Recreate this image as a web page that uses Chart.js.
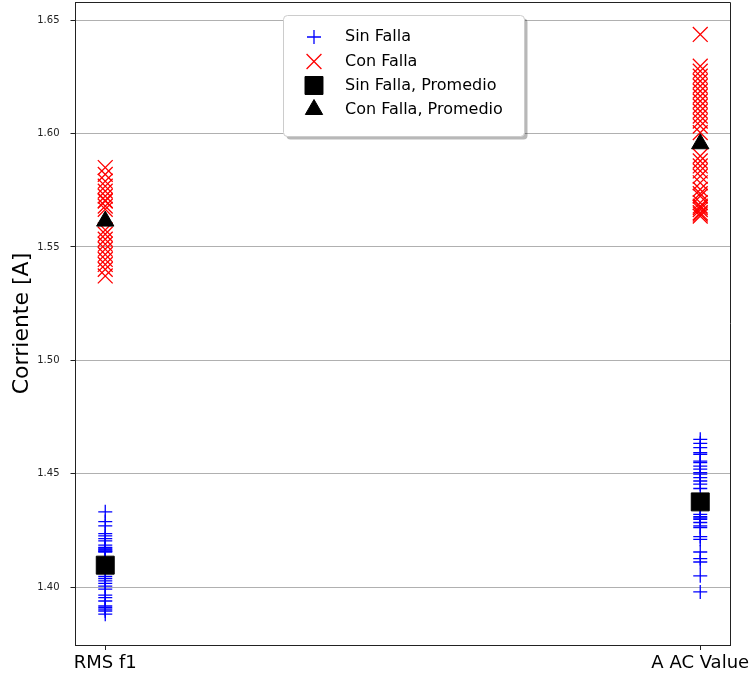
<!DOCTYPE html>
<html><head><meta charset="utf-8">
<script src="https://cdn.jsdelivr.net/npm/chart.js@4/dist/chart.umd.min.js"></script>
<style>html,body{margin:0;padding:0;background:#fff;}</style>
</head><body>
<canvas id="c" width="754" height="676" style="width:754px;height:676px;display:block"></canvas>
<script>
const categories = ['RMS f1', 'A AC Value'];
const seriesLabels = ['Sin Falla', 'Con Falla', 'Sin Falla, Promedio', 'Con Falla, Promedio'];
const sinFallaRMS = [1.4332,1.4289,1.4270,1.4236,1.4226,1.4214,1.4204,1.4185,1.4175,1.4172,1.4168,1.4164,1.4160,1.4158,1.4155,1.4047,1.4038,1.4028,1.4017,1.4005,1.3991,1.3965,1.3954,1.3939,1.3917,1.3910,1.3903,1.3895,1.3881];
const sinFallaAAC = [1.4652,1.4634,1.4615,1.4593,1.4586,1.4556,1.4549,1.4534,1.4520,1.4505,1.4498,1.4483,1.4468,1.4454,1.4435,1.4321,1.4311,1.4305,1.4299,1.4285,1.4270,1.4263,1.4223,1.4211,1.4155,1.4126,1.4111,1.4050,1.3979];
const conFallaRMS = [1.5850,1.5820,1.5790,1.5768,1.5746,1.5724,1.5705,1.5702,1.5680,1.5666,1.5575,1.5556,1.5534,1.5512,1.5490,1.5467,1.5445,1.5423,1.5401,1.5372];
const conFallaAAC = [1.6437,1.6297,1.6275,1.6253,1.6231,1.6209,1.6187,1.6165,1.6143,1.6121,1.6099,1.6077,1.6055,1.6033,1.6004,1.5901,1.5879,1.5857,1.5835,1.5812,1.5783,1.5754,1.5735,1.5724,1.5695,1.5680,1.5673,1.5665,1.5651,1.5645,1.5636];
const sinFallaPromedio = [1.4097, 1.4376];
const conFallaPromedio = [1.5614, 1.5955];
const yTicks = [1.40, 1.45, 1.50, 1.55, 1.60, 1.65];
const yRange = [1.3745, 1.6580];
const xRange = [-0.05, 1.05];

const toPts = (arrs) => arrs.flatMap((arr, i) => arr.map(v => ({x: i, y: v})));

const datasets = [
  {label: seriesLabels[0], data: toPts([sinFallaRMS, sinFallaAAC]), pointStyle: 'cross', pointRadius: 7, pointBorderWidth: 1.3, borderColor: '#0000ff', backgroundColor: 'rgba(0,0,0,0)', order: 4},
  {label: seriesLabels[1], data: toPts([conFallaRMS, conFallaAAC]), pointStyle: 'crossRot', pointRadius: 10.5, pointBorderWidth: 1.3, borderColor: '#ff0000', backgroundColor: 'rgba(0,0,0,0)', order: 3},
  {label: seriesLabels[2], data: toPts(sinFallaPromedio.map(v => [v])), pointStyle: 'rect', pointRadius: 12.7, pointBorderWidth: 1, borderColor: '#000', backgroundColor: '#000', order: 2},
  {label: seriesLabels[3], data: toPts(conFallaPromedio.map(v => [v])), pointStyle: 'triangle', pointRadius: 10, pointBorderWidth: 1, borderColor: '#000', backgroundColor: '#000', order: 1}
];

const framePlugin = {
  id: 'frame',
  afterDatasetsDraw(chart) {
    const {ctx, chartArea: a} = chart;
    ctx.save();
    ctx.strokeStyle = '#222'; ctx.lineWidth = 1;
    ctx.beginPath();
    ctx.moveTo(a.left, Math.round(a.top) + 0.5);
    ctx.lineTo(Math.round(a.right) + 0.5, Math.round(a.top) + 0.5);
    ctx.lineTo(Math.round(a.right) + 0.5, a.bottom);
    ctx.stroke();
    ctx.restore();
  }
};

function rrect(ctx, x, y, w, h, r) {
  ctx.beginPath();
  ctx.moveTo(x + r, y);
  ctx.lineTo(x + w - r, y); ctx.quadraticCurveTo(x + w, y, x + w, y + r);
  ctx.lineTo(x + w, y + h - r); ctx.quadraticCurveTo(x + w, y + h, x + w - r, y + h);
  ctx.lineTo(x + r, y + h); ctx.quadraticCurveTo(x, y + h, x, y + h - r);
  ctx.lineTo(x, y + r); ctx.quadraticCurveTo(x, y, x + r, y);
  ctx.closePath();
}

const legendPlugin = {
  id: 'mplLegend',
  afterDraw(chart) {
    const ctx = chart.ctx;
    const bx = 283.5, by = 15.5, bw = 241, bh = 121;
    ctx.save();
    ctx.fillStyle = 'rgba(0,0,0,0.28)';
    rrect(ctx, bx + 3, by + 3, bw, bh, 4); ctx.fill();
    ctx.fillStyle = '#fff';
    rrect(ctx, bx, by, bw, bh, 4); ctx.fill();
    ctx.strokeStyle = '#cccccc'; ctx.lineWidth = 1; ctx.stroke();
    const rows = [37, 61.5, 85.5, 109.5];
    chart.data.datasets.forEach((ds, i) => {
      const y = rows[i];
      ctx.save();
      ctx.strokeStyle = ds.borderColor; ctx.fillStyle = ds.backgroundColor; ctx.lineWidth = ds.pointBorderWidth;
      Chart.helpers.drawPoint(ctx, {pointStyle: ds.pointStyle, rotation: 0, radius: ds.pointRadius, borderWidth: ds.pointBorderWidth}, 314, y);
      ctx.restore();
      ctx.fillStyle = '#000';
      ctx.font = '16px "DejaVu Sans"';
      ctx.textBaseline = 'middle';
      ctx.textAlign = 'left';
      ctx.fillText(ds.label, 345, y);
    });
    ctx.restore();
  }
};

new Chart(document.getElementById('c'), {
  type: 'scatter',
  data: {datasets},
  options: {
    responsive: false, animation: false, devicePixelRatio: 1,
    layout: {autoPadding: false, padding: {top: 2, right: 24, bottom: 0, left: 0}},
    plugins: {legend: {display: false}, tooltip: {enabled: false}},
    scales: {
      x: {
        type: 'linear', min: xRange[0], max: xRange[1],
        afterBuildTicks: s => { s.ticks = categories.map((_, i) => ({value: i})); },
        ticks: {callback: v => categories[v] ?? '', font: {family: 'DejaVu Sans', size: 18}, color: '#000', padding: 3, maxRotation: 0, autoSkip: false},
        grid: {drawOnChartArea: false, drawTicks: true, tickLength: 5, tickColor: '#222'},
        border: {display: true, color: '#222', width: 1},
        afterFit: s => { s.height = 31; s.paddingLeft = 0; s.paddingRight = 0; }
      },
      y: {
        type: 'linear', min: yRange[0], max: yRange[1],
        afterBuildTicks: s => { s.ticks = yTicks.map(v => ({value: v})); },
        ticks: {callback: v => v.toFixed(2), font: {family: 'DejaVu Sans', size: 10}, color: '#222', padding: 11},
        grid: {color: '#b0b0b0', lineWidth: 1, tickLength: 5, tickColor: '#222'},
        border: {display: true, color: '#222', width: 1},
        title: {display: true, text: 'Corriente [A]', font: {family: 'DejaVu Sans', size: 22}, color: '#000', padding: {top: 9, bottom: 0}},
        afterFit: s => { s.width = 75.5; s.paddingTop = 0; s.paddingBottom = 0; }
      }
    }
  },
  plugins: [framePlugin, legendPlugin]
});
</script>
</body></html>
